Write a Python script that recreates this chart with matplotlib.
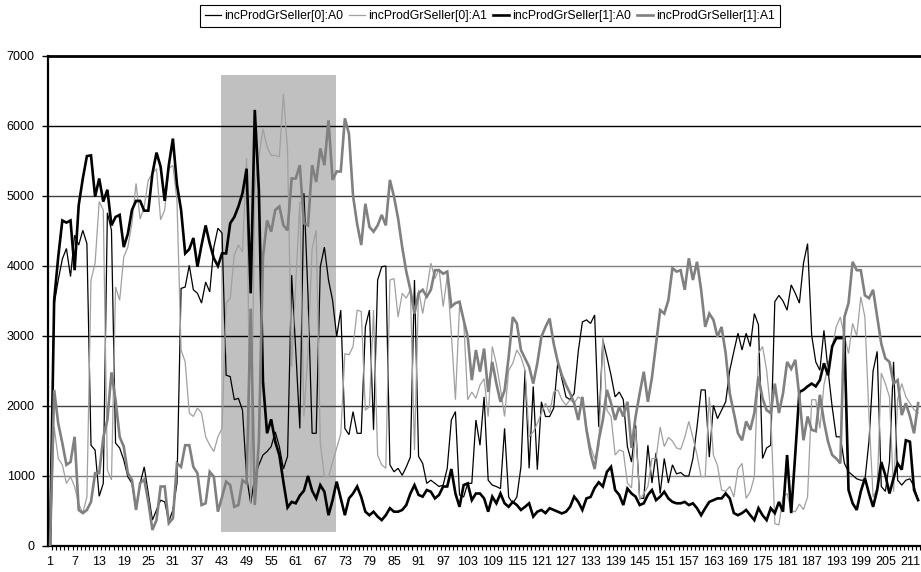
import matplotlib
matplotlib.use('Agg')
import matplotlib.pyplot as plt
from matplotlib.patches import Rectangle

plt.rcParams['font.family'] = ['Liberation Sans', 'DejaVu Sans']

# ---------------- data ----------------
series_names = ["incProdGrSeller[0]:A0", "incProdGrSeller[0]:A1",
                "incProdGrSeller[1]:A0", "incProdGrSeller[1]:A1"]

seller0_A0 = [
    0, 3450, 3800, 4100, 4250, 3850, 4440, 4300, 4510, 4320,
    1440, 1370, 710, 895, 4760, 4510, 1470, 1400, 1230, 990,
    895, 515, 895, 1130, 750, 370, 515, 655, 630, 350,
    515, 900, 3680, 3700, 4010, 3660, 3610, 3470, 3770, 3630,
    4270, 4540, 4470, 2440, 2420, 2090, 2110, 1940, 990, 610,
    990, 1160, 1300, 1350, 1420, 1630, 1420, 1100, 1280, 3870,
    2800, 1680, 5040, 3580, 1610, 1610, 3990, 4270, 3800, 3510,
    2990, 3370, 1680, 1590, 1920, 1610, 1610, 3130, 3370, 1660,
    3800, 3990, 4000, 1160, 1060, 1110, 1010, 1130, 1270, 3800,
    1280, 1180, 895, 940, 895, 850, 870, 1110, 1800, 1920,
    730, 700, 895, 895, 1800, 1440, 2130, 940, 870, 850,
    820, 1680, 700, 610, 700, 1130, 2510, 1110, 2280, 1090,
    2060, 1850, 1850, 1970, 2630, 2390, 2130, 2090, 2180, 2780,
    3200, 3230, 3180, 3300, 1700, 2940, 2700, 2440, 2130, 2200,
    2090, 1420, 1200, 1730, 680, 680, 1440, 900, 1330, 750,
    1250, 900, 1160, 1030, 1050, 1000, 1000, 1250, 1700, 2230,
    2230, 1270, 2010, 1820, 1940, 2060, 2510, 2780, 3040, 2800,
    3040, 2850, 3320, 3160, 1250, 1400, 1440, 3490, 3580, 3500,
    3370, 3730, 3610, 3470, 4040, 4320, 3010, 2630, 2510, 3080,
    2510, 1990, 1560, 1560, 1180, 1060, 1010, 960, 940, 940,
    1500, 2500, 2780, 850, 780, 1200, 2630, 940, 870, 940,
    960, 850, 655,
]

seller0_A1 = [
    0, 1700, 1250, 1160, 895, 990, 850, 600, 470, 700,
    3800, 4040, 4920, 4800, 1085, 945, 3700, 3510, 4130, 4270,
    4610, 5180, 4670, 4850, 5230, 5320, 5390, 4660, 4800, 5390,
    5440, 4930, 2800, 2630, 1900, 1850, 1970, 1900, 1560, 1440,
    1350, 1560, 1680, 3470, 3540, 4160, 4300, 4200, 5540, 600,
    5130, 5560, 5960, 5700, 5580, 5580, 5560, 6460, 5650, 2560,
    3750, 4920, 1850, 2800, 4250, 4510, 1470, 990, 990, 1200,
    1400, 1600, 2750, 2730, 2850, 3370, 3350, 1940, 1990, 3370,
    1300, 1160, 1110, 3800, 3820, 3270, 3610, 3540, 3660, 1370,
    3660, 3320, 3660, 4040, 3820, 3960, 3420, 3850, 3040, 2090,
    3420, 3230, 2090, 2200, 2110, 2300, 2390, 1850, 2850, 2600,
    2250, 1850, 2510, 2610, 2800, 2700, 2510, 1560, 1630, 1750,
    1900, 2040, 1900, 2200, 2230, 2090, 2010, 2090, 2040, 2130,
    2090, 1700, 1420, 1250, 1420, 2990, 1940, 1850, 1300, 1370,
    1350, 900, 830, 1680, 660, 750, 850, 1250, 1250, 1700,
    1420, 1550, 1500, 1400, 1380, 1550, 1780, 1550, 1300, 990,
    990, 2130, 1300, 1150, 800, 780, 850, 700, 1100, 1180,
    680, 775, 990, 2750, 2850, 2510, 1920, 320, 300, 700,
    750, 500, 490, 600, 520, 700, 2090, 2090, 1680, 2300,
    2580, 2850, 3130, 3270, 2990, 2750, 3180, 3000, 3560, 3270,
    1850, 700, 820, 2470, 2320, 2130, 775, 2100, 2320, 2130,
    2040, 1950, 1900,
]

seller1_A0 = [
    0, 3510, 4130, 4650, 4620, 4650, 3940, 4870, 5250, 5570,
    5580, 4990, 5250, 4920, 5090, 4580, 4700, 4730, 4270, 4460,
    4800, 4930, 4930, 4790, 4790, 5320, 5620, 5420, 4930, 5440,
    5820, 5160, 4800, 4180, 4240, 4400, 3990, 4300, 4580, 4320,
    4110, 4000, 4180, 4180, 4610, 4700, 4850, 5040, 5390, 3610,
    6230, 5080, 2350, 1610, 1810, 1490, 1300, 910, 550, 630,
    610, 720, 790, 1000, 790, 680, 870, 775, 440, 655,
    920, 680, 440, 680, 750, 850, 700, 490, 440, 490,
    420, 370, 440, 540, 490, 490, 515, 585, 750, 870,
    730, 705, 800, 775, 680, 730, 850, 850, 1100, 750,
    560, 870, 895, 655, 750, 750, 680, 490, 705, 610,
    750, 610, 560, 630, 585, 515, 560, 610, 420, 490,
    515, 470, 540, 515, 490, 465, 490, 560, 705, 630,
    515, 680, 700, 830, 910, 850, 1060, 1130, 800, 730,
    585, 820, 750, 705, 585, 610, 730, 800, 655, 705,
    775, 680, 630, 610, 610, 630, 585, 610, 540, 440,
    540, 630, 655, 680, 680, 750, 680, 470, 440, 470,
    515, 440, 370, 540, 440, 370, 540, 470, 630, 490,
    1300, 470, 1320, 2200, 2230, 2280, 2320, 2280, 2370, 2610,
    2440, 2850, 2970, 2970, 2970, 800, 610, 515, 780, 970,
    750, 560, 800, 1200, 1010, 750, 970, 1180, 1090, 1510,
    1490, 800, 655,
]

seller1_A1 = [
    0, 2230, 1750, 1470, 1160, 1200, 1560, 515, 470, 515,
    630, 1040, 1040, 1550, 1800, 2480, 2080, 1560, 1420, 1040,
    945, 515, 900, 950, 630, 230, 370, 850, 850, 325,
    395, 1180, 1130, 1440, 1440, 1130, 1040, 585, 610, 1060,
    990, 490, 700, 920, 870, 560, 585, 940, 895, 3390,
    585, 1500, 4130, 4650, 4490, 4800, 4850, 4580, 4510, 5250,
    5250, 5440, 4610, 4580, 5440, 5200, 5680, 5440, 6080, 5230,
    5350, 5350, 6110, 5890, 5000, 4600, 4300, 4890, 4560, 4490,
    4580, 4730, 4580, 5230, 4990, 4680, 4270, 3920, 3660, 3320,
    3610, 3660, 3560, 3660, 3940, 3940, 3890, 3920, 3420, 3470,
    3490, 3230, 2990, 2370, 2800, 2490, 2820, 2200, 2630, 2320,
    2060, 2220, 2700, 3270, 3180, 2800, 2680, 2560, 2320, 2610,
    2990, 3130, 3250, 2890, 2630, 2440, 2300, 2180, 2040, 1800,
    2130, 1660, 1320, 1100, 1510, 1800, 2230, 2040, 1800, 1990,
    1850, 2060, 1400, 1850, 2180, 2490, 2060, 2410, 2890, 3370,
    3320, 3510, 3970, 3920, 3940, 3660, 4110, 3800, 4060, 3660,
    3130, 3320, 3230, 2990, 3130, 2750, 2180, 1900, 1610, 1510,
    1780, 1660, 1900, 2420, 2110, 1940, 1900, 2320, 1900, 2180,
    2630, 2530, 2660, 2130, 1510, 1850, 1660, 1640, 2160, 1780,
    1490, 1300, 1250, 1180, 3270, 3470, 4060, 3940, 3940, 3580,
    3540, 3660, 3270, 2890, 2680, 2630, 2320, 2370, 1870, 2040,
    1850, 1610, 2040,
]

categories = list(range(1, len(seller0_A0) + 1))
tick_labels = [str(c) for c in categories[::6]]
y_ticks = [0, 1000, 2000, 3000, 4000, 5000, 6000, 7000]

# highlighted period (grey box)
highlight_x = (42.75, 70.85)
highlight_y = (200, 6730)

# ---------------- figure ----------------
W, H = 921, 572
fig = plt.figure(figsize=(W / 100, H / 100), dpi=100)
ax = fig.add_axes([48 / W, 26 / H, (W - 48) / W, 490 / H])
ax.set_xlim(0.5, 213.7)
ax.set_ylim(0, 7000)

grid_cols = {1000: '#808080', 2000: '#404040', 3000: '#000000',
             4000: '#808080', 5000: '#404040', 6000: '#000000'}
for v, c in grid_cols.items():
    ax.axhline(v, color=c, lw=1.0, zorder=1)

ax.add_patch(Rectangle((highlight_x[0], highlight_y[0]),
                       highlight_x[1] - highlight_x[0],
                       highlight_y[1] - highlight_y[0],
                       facecolor='#c0c0c0', edgecolor='none', zorder=0.5))

styles = [dict(color='#000000', lw=0.9),
          dict(color='#a0a0a0', lw=0.9),
          dict(color='#000000', lw=1.9),
          dict(color='#808080', lw=1.9)]
data = [seller0_A0, seller0_A1, seller1_A0, seller1_A1]
handles = []
for name, vals, st in zip(series_names, data, styles):
    ln, = ax.plot(categories, vals, zorder=3, solid_joinstyle='miter', **st)
    handles.append(ln)

for side in ['left', 'bottom']:
    ax.spines[side].set_linewidth(1.6)
    ax.spines[side].set_color('black')
ax.spines['top'].set_linewidth(2.0)
ax.spines['right'].set_visible(False)

ax.set_yticks(y_ticks)
ax.set_yticklabels([str(v) for v in y_ticks])
ax.tick_params(axis='y', direction='out', length=4, width=1, pad=5.5, labelsize=9)
ax.set_xticks(categories[::6])
ax.set_xticklabels(tick_labels)
ax.set_xticks([c + 0.5 for c in categories], minor=True)
ax.tick_params(axis='x', which='major', length=0, pad=7.5, labelsize=9)
ax.tick_params(axis='x', which='minor', direction='out', length=3, width=0.8)

leg = fig.legend(handles, series_names, loc='upper left',
                 bbox_to_anchor=(200 / W, 1 - 5 / H), ncol=4, frameon=True,
                 fancybox=False, edgecolor='black', framealpha=1,
                 fontsize=8.8, handlelength=1.3, handletextpad=0.3,
                 columnspacing=0.45, borderpad=0.4, borderaxespad=0)
leg.get_frame().set_linewidth(0.8)

fig.savefig('out.png', dpi=100)
